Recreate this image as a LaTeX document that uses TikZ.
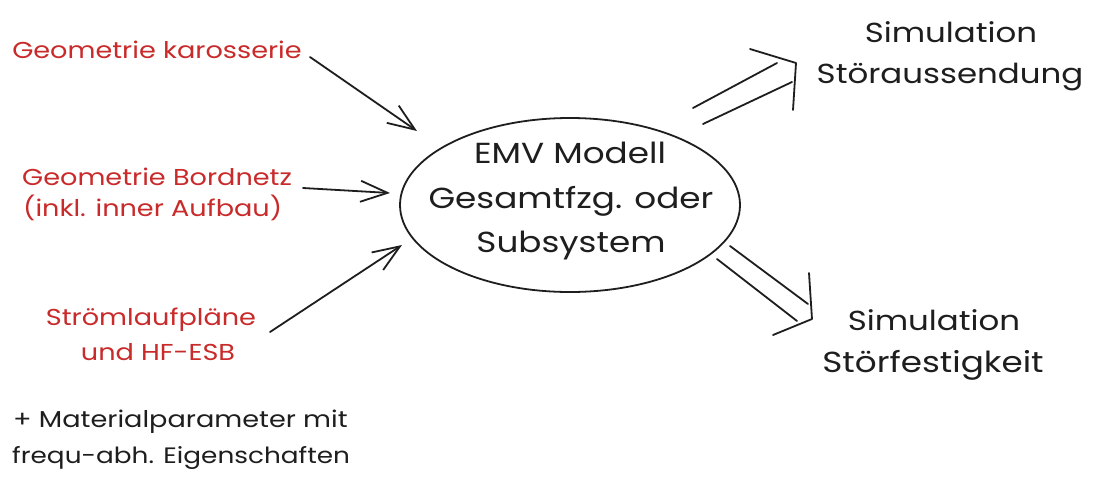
\documentclass[tikz,border=0pt]{standalone}
\usepackage{fontspec}
\setmainfont{Poppins}[FakeStretch=1.18]
\usetikzlibrary{arrows.meta,calc,shapes.geometric}
\definecolor{exred}{HTML}{C92A2A}
\definecolor{exblk}{HTML}{1E1E1E}
\begin{document}
\begin{tikzpicture}[x=1pt,y=-1pt,line cap=round,line join=round,
  redtxt/.style={text=exred,font=\fontsize{23}{30}\selectfont,inner sep=0pt,anchor=base},
  blktxt/.style={text=exblk,font=\fontsize{23}{30}\selectfont,inner sep=0pt,anchor=base west},
  bigtxt/.style={text=exblk,font=\fontsize{29}{40}\selectfont,inner sep=0pt,anchor=base},
  outtxt/.style={text=exblk,font=\fontsize{27.5}{40}\selectfont,inner sep=0pt,anchor=base},
  thinarrow/.style={draw=exblk,line width=1.8pt,-{Straight Barb[length=27pt,width=21pt,line width=1.8pt]}},
  fatline/.style={draw=exblk,line width=1.8pt}]
\useasboundingbox (0,0) rectangle (1098,483);
\fill[white] (0,0) rectangle (1098,483);

% central ellipse
\node[draw=exblk,line width=1.8pt,ellipse,minimum width=340pt,minimum height=174pt] (emv) at (570,205) {};
\node[bigtxt] (e1) at (570,163) {EMV Modell};
\node[bigtxt] (e2) at (571,208) {Gesamtfzg. oder};
\node[bigtxt] (e3) at (571,252) {Subsystem};

% inputs
\node[redtxt] (r1) at (157,58) {Geometrie karosserie};
\node[redtxt,anchor=base west] (r2) at (22,185) {Geometrie Bordnetz};
\node[redtxt,anchor=base west] (r2b) at (23,216) {(inkl. inner Aufbau)};
\node[redtxt] (r3) at (151,325) {Strömlaufpläne};
\node[redtxt] (r3b) at (158,360) {und HF-ESB};
\node[blktxt] (m1) at (13,427) {+ Materialparameter mit};
\node[blktxt,font=\fontsize{22.3}{30}\selectfont] (m2) at (12,463) {frequ-abh. Eigenschaften};

% outputs
\node[outtxt] (s1) at (951,42) {Simulation};
\node[outtxt] (s1b) at (950,83) {Störaussendung};
\node[outtxt] (s2) at (934,330) {Simulation};
\node[outtxt,font=\fontsize{29}{40}\selectfont] (s2b) at (933,372) {Störfestigkeit};

% thin arrows
\coordinate (a1s) at (310,57);  \coordinate (a1e) at (417,131);
\coordinate (a2s) at (303,188); \coordinate (a2e) at (390,193);
\coordinate (a3s) at (270,332); \coordinate (a3e) at (402,245);
\draw[thinarrow] (a1s) -- (a1e);
\draw[thinarrow] (a2s) -- (a2e);
\draw[thinarrow] (a3s) -- (a3e);

% fat arrow to Stoeraussendung
\coordinate (t1) at (796,63);
\draw[fatline] ($(t1)+(-103,45)$) -- ($(t1)+(-19,0)$);
\draw[fatline] ($(t1)+(-93,61)$) -- ($(t1)+(-4,19)$);
\draw[fatline] ($(t1)+(-46,-14)$) -- (t1) -- ($(t1)+(-3,47)$);

% fat arrow to Stoerfestigkeit
\coordinate (t2) at (812,319);
\draw[fatline] ($(t2)+(-82,-73)$) -- ($(t2)+(-4,-15)$);
\draw[fatline] ($(t2)+(-95,-60)$) -- ($(t2)+(-15,2)$);
\draw[fatline] ($(t2)+(-3,-46)$) -- (t2) -- ($(t2)+(-39,16)$);
\end{tikzpicture}
\end{document}
